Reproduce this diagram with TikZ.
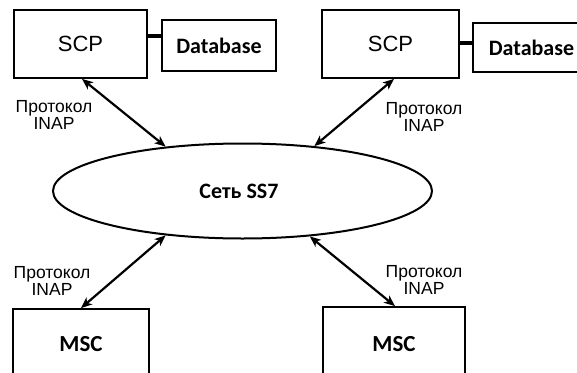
\documentclass[tikz,border=0pt]{standalone}
\usepackage{fontspec}
\setmainfont{Liberation Sans}
\newfontfamily\calib{Carlito}
\usetikzlibrary{arrows.meta,shapes.geometric}
\begin{document}
\begin{tikzpicture}[x=1pt,y=-1pt,
  box/.style={draw,line width=1.8pt,inner sep=0pt,font=\fontsize{22}{24}\selectfont},
  dbbox/.style={draw,line width=1.6pt,inner sep=0pt,font=\calib\bfseries\fontsize{22}{24}\selectfont},
  mscbox/.style={draw,line width=1.8pt,inner sep=0pt,font=\calib\bfseries\fontsize{23}{26}\selectfont},
  lbl/.style={align=center,inner sep=0pt,font=\fontsize{17.5}{17}\selectfont},
  link/.style={line width=2.2pt,{Stealth[length=11pt,width=9pt,inset=3pt]}-{Stealth[length=11pt,width=9pt,inset=3pt]}},
  dbl/.style={line width=3.5pt}]
\useasboundingbox (0,0) rectangle (577,372);
\clip (0,0) rectangle (577,372);
% top boxes
\node[box,minimum width=133pt,minimum height=68pt] (scpL) at (80.5,44) {SCP};
\node[dbbox,minimum width=114pt,minimum height=51pt] (dbL) at (219,45.5) {Database};
\node[box,minimum width=137pt,minimum height=68pt] (scpR) at (390.5,44) {SCP};
\node[dbbox,minimum width=117pt,minimum height=49pt] (dbR) at (531.5,47.5) {Database};
\draw[dbl] (scpL.east |- 0,36) -- (dbL.west |- 0,36);
\draw[dbl] (scpR.east |- 0,43) -- (dbR.west |- 0,43);
% network
\node[draw,ellipse,line width=2pt,minimum width=379pt,minimum height=95pt,inner sep=0pt] (net) at (242.5,191) {};
\node[inner sep=0pt,font=\calib\bfseries\fontsize{22}{24}\selectfont] (nett) at (239,191) {Сеть SS7};
% bottom boxes
\node[mscbox,minimum width=136pt,minimum height=70pt] (mscL) at (81,344) {MSC};
\node[mscbox,minimum width=142pt,minimum height=74pt] (mscR) at (394,344) {MSC};
% links
\draw[link] ([xshift=1.5pt]scpL.south) -- (net.150.5);
\draw[link] ([xshift=3.5pt]scpR.south) -- (net.32.9);
\draw[link] (net.210) -- (mscL.north);
\draw[link] (net.326.3) -- ([xshift=1pt]mscR.north);
% labels
\node[lbl] (l1) at (54,115) {Протокол\\INAP};
\node[lbl] (l2) at (424,117) {Протокол\\INAP};
\node[lbl] (l3) at (52,281) {Протокол\\INAP};
\node[lbl] (l4) at (424,280) {Протокол\\INAP};
\end{tikzpicture}
\end{document}
